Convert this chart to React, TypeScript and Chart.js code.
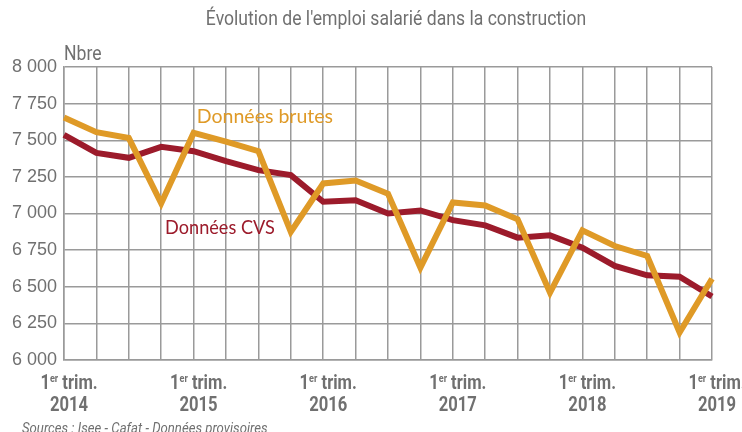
import { useEffect, useRef } from "react";
import { Chart, registerables } from "chart.js";

Chart.register(...registerables);

const quarters = [
  "T1 2014", "T2 2014", "T3 2014", "T4 2014",
  "T1 2015", "T2 2015", "T3 2015", "T4 2015",
  "T1 2016", "T2 2016", "T3 2016", "T4 2016",
  "T1 2017", "T2 2017", "T3 2017", "T4 2017",
  "T1 2018", "T2 2018", "T3 2018", "T4 2018",
  "T1 2019",
];
const yearLabels = ["2014", "2015", "2016", "2017", "2018", "2019"];

const donneesBrutes = [
  7655, 7555, 7515, 7070, 7550, 7490, 7425, 6875, 7205, 7225, 7135,
  6630, 7075, 7055, 6960, 6460, 6885, 6778, 6710, 6188, 6555,
];
const donneesCVS = [
  7537, 7414, 7380, 7455, 7425, 7357, 7296, 7262, 7080, 7091, 7000,
  7021, 6955, 6919, 6835, 6851, 6767, 6642, 6578, 6569, 6433,
];

const yMin = 6000;
const yMax = 8000;
const yStep = 250;

const TITLE = "Évolution de l'emploi salarié dans la construction";
const UNIT = "Nbre";
const SOURCE = "Sources : Isee - Cafat - Données provisoires";
const LABEL_BRUTES = "Données brutes";
const LABEL_CVS = "Données CVS";

const ORANGE = "#DF9A27";
const RED = "#9C1B2B";
const GRID = "#9a9a9a";
const TEXT = "#707070";
const COND = "Roboto, 'Liberation Sans', sans-serif";

function fmt(v: number): string {
  const t = Math.floor(v / 1000);
  const r = String(v % 1000).padStart(3, "0");
  return t + " " + r;
}

function condText(
  ctx: CanvasRenderingContext2D,
  text: string,
  x: number,
  y: number,
  sx: number
) {
  ctx.save();
  ctx.translate(x, y);
  ctx.scale(sx, 1);
  ctx.fillText(text, 0, 0);
  ctx.restore();
}

const decorPlugin = {
  id: "decor",
  afterDraw(chart: any) {
    const ctx = chart.ctx as CanvasRenderingContext2D;
    const xs = chart.scales.x;
    const ys = chart.scales.y;
    ctx.save();
    ctx.fillStyle = TEXT;
    // title
    ctx.font = `20px ${COND}`;
    ctx.textAlign = "center";
    ctx.textBaseline = "middle";
    condText(ctx, TITLE, 396, 20, 0.88);
    // unit
    ctx.textAlign = "left";
    ctx.font = `20px ${COND}`;
    condText(ctx, UNIT, chart.chartArea.left, 55, 0.88);
    // source
    ctx.font = `italic 14px ${COND}`;
    ctx.textBaseline = "alphabetic";
    condText(ctx, SOURCE, 22, 433, 0.94);

    // x labels (first quarter of each year)
    const sx = 0.83;
    let yi = 0;
    quarters.forEach((q, i) => {
      if (i % 4 !== 0) return;
      const cx = xs.getPixelForValue(i) + 5;
      const big = `bold 20px ${COND}`;
      const small = `bold 11px ${COND}`;
      ctx.font = big;
      const w1 = ctx.measureText("1").width * sx;
      const w3 = ctx.measureText(" trim.").width * sx;
      ctx.font = small;
      const w2 = ctx.measureText("er").width * sx;
      const total = w1 + w2 + w3;
      const x0 = cx - total / 2;
      const base1 = 389;
      ctx.textAlign = "left";
      ctx.textBaseline = "alphabetic";
      ctx.fillStyle = TEXT;
      ctx.font = big;
      condText(ctx, "1", x0, base1, sx);
      ctx.font = small;
      condText(ctx, "er", x0 + w1, base1 - 7, sx);
      ctx.font = big;
      condText(ctx, " trim.", x0 + w1 + w2, base1, sx);
      ctx.textAlign = "center";
      condText(ctx, yearLabels[yi], cx, 411, sx);
      yi++;
    });

    // series labels
    ctx.textAlign = "left";
    ctx.textBaseline = "middle";
    ctx.font = "19.5px Lato, 'Open Sans', sans-serif";
    ctx.fillStyle = ORANGE;
    ctx.fillText(LABEL_BRUTES, xs.getPixelForValue(4.1), ys.getPixelForValue(7660));
    ctx.fillStyle = RED;
    condText(ctx, LABEL_CVS, xs.getPixelForValue(3.12), ys.getPixelForValue(6900), 0.93);
    ctx.restore();
  },
};

export default function App() {
  const ref = useRef<HTMLCanvasElement>(null);
  useEffect(() => {
    if (!ref.current) return;
    const chart = new Chart(ref.current, {
      type: "line",
      data: {
        labels: quarters,
        datasets: [
          {
            label: LABEL_BRUTES,
            data: donneesBrutes,
            borderColor: ORANGE,
            backgroundColor: ORANGE,
            borderWidth: 6,
            pointRadius: 0,
            tension: 0,
            borderJoinStyle: "miter",
            order: 0,
          },
          {
            label: LABEL_CVS,
            data: donneesCVS,
            borderColor: RED,
            backgroundColor: RED,
            borderWidth: 6,
            pointRadius: 0,
            tension: 0,
            borderJoinStyle: "miter",
            order: 1,
          },
        ],
      },
      options: {
        responsive: false,
        animation: false,
        layout: { padding: { top: 67, right: 30, left: 0, bottom: 0 } },
        plugins: {
          legend: { display: false },
          title: { display: false },
          tooltip: { enabled: false },
        },
        scales: {
          x: {
            offset: false,
            ticks: { display: false },
            grid: { color: GRID, lineWidth: 1.5, drawTicks: false },
            border: { color: GRID, width: 1.5 },
            afterFit(scale: any) {
              scale.height = 72;
            },
          },
          y: {
            min: yMin,
            max: yMax,
            ticks: {
              stepSize: yStep,
              padding: 7,
              color: TEXT,
              font: { family: "'Liberation Sans', Arial, sans-serif", size: 18 },
              callback: (v: any) => fmt(Number(v)),
            },
            grid: { color: GRID, lineWidth: 1.5, drawTicks: false },
            border: { color: GRID, width: 1.5 },
            afterFit(scale: any) {
              scale.width = 64;
            },
          },
        },
      },
      plugins: [decorPlugin],
    } as any);
    return () => chart.destroy();
  }, []);
  return (
    <div style={{ position: "absolute", left: 0, top: 0, width: 742, height: 432, background: "#fff" }}>
      <canvas ref={ref} width={742} height={432} style={{ display: "block" }} />
    </div>
  );
}
